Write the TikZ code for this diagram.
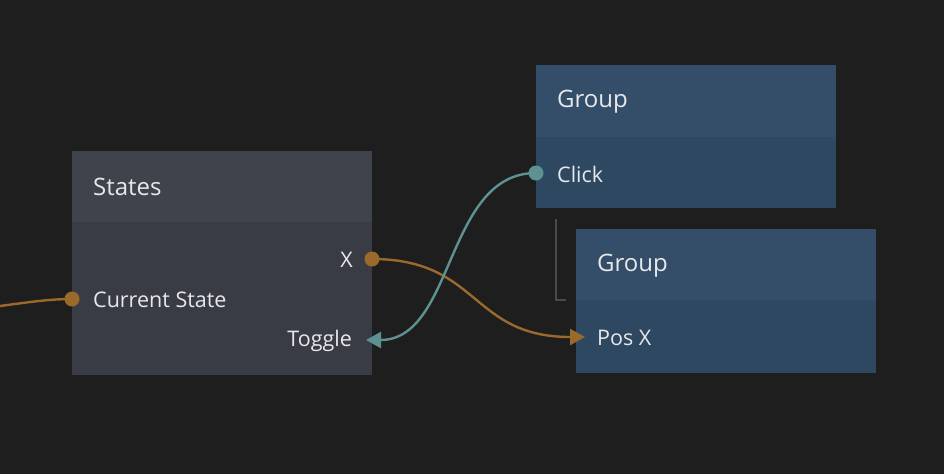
\documentclass[tikz,border=0pt]{standalone}
\usepackage{fontspec}
\setmainfont{Open Sans}
\usepackage{tikz}
\usetikzlibrary{positioning,arrows.meta}

\definecolor{bg}{HTML}{1E1E1E}
\definecolor{stHead}{HTML}{3F434C}
\definecolor{stBody}{HTML}{393C45}
\definecolor{grHead}{HTML}{344D69}
\definecolor{grBody}{HTML}{2E4862}
\definecolor{wireOr}{HTML}{9A6A2A}
\definecolor{wireTe}{HTML}{5E9292}
\definecolor{txt}{HTML}{E6E8EA}
\definecolor{brk}{HTML}{4A4A4A}

\tikzset{
  box/.style={anchor=north west, inner sep=0pt, minimum width=300pt},
  title/.style={anchor=west, inner sep=0pt, text=txt, font=\fontsize{24}{28}\selectfont},
  port/.style={inner sep=0pt, text=txt, font=\fontsize{21.5}{25}\selectfont},
  dot/.style={circle, inner sep=0pt, minimum size=15pt},
  wire/.style={line width=2.4pt},
}

\begin{document}
\begin{tikzpicture}[x=1pt, y=-1pt]
		\fill[bg] (0,0) rectangle (944,474);
		\useasboundingbox (0,0) rectangle (944,474);

		% States node
		\node[box, fill=stBody, minimum height=224pt] (states) at (72,151) {};
		\node[box, fill=stHead, minimum height=71pt] (statesHead) at (72,151) {};
		\node[title] (statesTitle) at (93,186.5) {States};
		\node[port, anchor=east] (xLbl) at (353,260) {X};
		\node[port, anchor=west] (curLbl) at (93,300) {Current State};
		\node[port, anchor=east] (togLbl) at (352,341) {Toggle};

		% first Group node
		\node[box, fill=grBody, minimum height=143pt] (group) at (536,65) {};
		\node[box, fill=grHead, minimum height=72pt] (groupHead) at (536,65) {};
		\node[title] (groupTitle) at (557,101.5) {Group};
		\node[port, anchor=west] (clickLbl) at (557,174) {Click};

		% second Group node (child)
		\node[box, fill=grBody, minimum height=144pt] (child) at (576,229) {};
		\node[box, fill=grHead, minimum height=71pt] (childHead) at (576,229) {};
		\node[title] (childTitle) at (597,265.5) {Group};
		\node[port, anchor=west] (posLbl) at (597,338) {Pos X};

		% parent bracket
		\draw[line width=1.5pt, draw=brk] (556,219) -- (556,300) -- (566,300);

		% ports
		\coordinate (inL) at (0,306);
		\coordinate (togPt) at (366,340);
		\coordinate (posPt) at (585,337);
		\node[dot, fill=wireOr] (curDot) at (72,299) {};
		\node[dot, fill=wireOr] (xDot) at (372,259) {};
		\node[dot, fill=wireTe] (clickDot) at (536,173) {};

		% wires
		\draw[wire, draw=wireOr] (inL) .. controls (30,302) and (50,299) .. (curDot.center);
		\draw[wire, draw=wireOr, -{Triangle[length=15pt, width=16pt]}]
			(xDot.center) .. controls (480,259) and (470,337) .. (posPt);
		\draw[wire, draw=wireTe, -{Triangle[length=15pt, width=16pt]}]
			(clickDot.center) .. controls (445,173) and (455,340) .. (togPt);
	\end{tikzpicture}
\end{document}
